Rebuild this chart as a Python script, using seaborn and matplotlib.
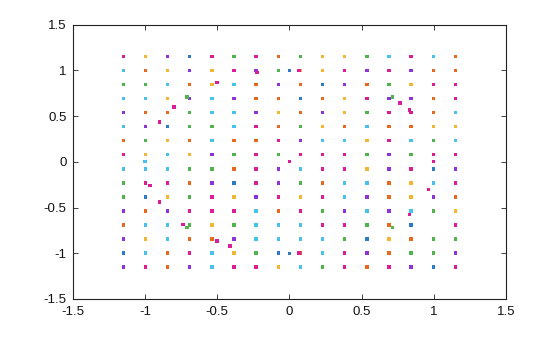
import matplotlib
matplotlib.use("Agg")
import matplotlib.pyplot as plt
import seaborn as sns
import pandas as pd

# grid positions
grid_x = [-1.15, -0.997, -0.843, -0.69, -0.537, -0.383, -0.23, -0.077,
          0.077, 0.23, 0.383, 0.537, 0.69, 0.843, 0.997, 1.15]
grid_y = [1.15, 0.997, 0.843, 0.69, 0.537, 0.383, 0.23, 0.077,
          -0.077, -0.23, -0.383, -0.537, -0.69, -0.843, -0.997, -1.15]

# colour code of each grid point, rows top to bottom ('_' = no point)
grid_codes = [
    "MYPBMGMOGYYGCMCO",
    "COYPYMPGYYMPMPOO",
    "GGCOYCOPOBPOGYMM",
    "CCYPCPOOBOYMPPOM",
    "POOGCCPYOPYGMMOC",
    "CPBGGCMOGYOCOOYY",
    "OGYOCOOMPCCYMCGC",
    "MYCYPGMGMMMGPGMM",
    "CCCGGOMPCMMYPMBP",
    "GMMOPBMPGOCCOYCM",
    "GBYGMYPMYMCPOYPO",
    "POPMMMCOMGPCPCGY",
    "OCCGYGCCCMMGOB_M",
    "PYCOOPCCCCGBYOGG",
    "BCOMCYGBOCMPOGGP",
    "PMOPCMMYCGMOMPBM",
]

# extra points around the unit circle
extra_x = [0.0, 0.067, -0.225, -0.5, -0.708, -0.8, -0.9, -1.0, -0.966, -0.9,
           -0.736, -0.708, -0.5, -0.41, 0.0, 0.067, 0.962, 0.831, 0.713, 1.0,
           0.713, 0.766, 0.831, 0.0]
extra_y = [1.0, 0.997, 0.975, 0.866, 0.708, 0.6, 0.434, 0.0, -0.259, -0.44,
           -0.683, -0.716, -0.866, -0.92, -1.0, -0.997, -0.30, -0.573, -0.716, 0.0,
           0.708, 0.643, 0.566, 0.0]
extra_c = list("BMMMGMMCMMMGMMBMMMGMGMMM")

palette = {
    "M": "#dd1c98",
    "Y": "#f2b632",
    "P": "#8e33d8",
    "B": "#2b7cc4",
    "G": "#4db54b",
    "O": "#e8681e",
    "C": "#45c2ee",
}

ticks = [-1.5, -1, -0.5, 0, 0.5, 1, 1.5]
tick_labels = ["-1.5", "-1", "-0.5", "0", "0.5", "1", "1.5"]

rows = []
for r, code_row in enumerate(grid_codes):
    for c, code in enumerate(code_row):
        if code != "_":
            rows.append((grid_x[c], grid_y[r], code))
grid_df = pd.DataFrame(rows, columns=["x", "y", "c"])
extra_df = pd.DataFrame({"x": extra_x, "y": extra_y, "c": extra_c})

sns.set_style("white")
plt.rcParams["font.family"] = ["Liberation Sans", "DejaVu Sans"]

fig = plt.figure(figsize=(5.6, 3.37), dpi=100)
ax = fig.add_axes([0.13, 0.1128, 0.7735, 0.8142])

sns.scatterplot(data=grid_df, x="x", y="y", hue="c", palette=palette,
                marker="s", s=6, linewidth=0, legend=False, ax=ax)
sns.scatterplot(data=extra_df, x="x", y="y", hue="c", palette=palette,
                marker="s", s=6, linewidth=0, legend=False, ax=ax)

ax.set_xlim(-1.5, 1.5)
ax.set_ylim(-1.5, 1.5)
ax.set_xticks(ticks)
ax.set_xticklabels(tick_labels)
ax.set_yticks(ticks)
ax.set_yticklabels(tick_labels)
ax.set_xlabel("")
ax.set_ylabel("")
ax.tick_params(direction="in", length=3.5, width=0.6, labelsize=9.5,
               top=True, right=True, bottom=True, left=True,
               colors="#222222", labelcolor="#111111")
ax.tick_params(axis="x", pad=5)
ax.tick_params(axis="y", pad=4.5)
for sp in ax.spines.values():
    sp.set_visible(True)
    sp.set_color("#222222")
    sp.set_linewidth(0.8)

fig.savefig("out.png", dpi=100)
